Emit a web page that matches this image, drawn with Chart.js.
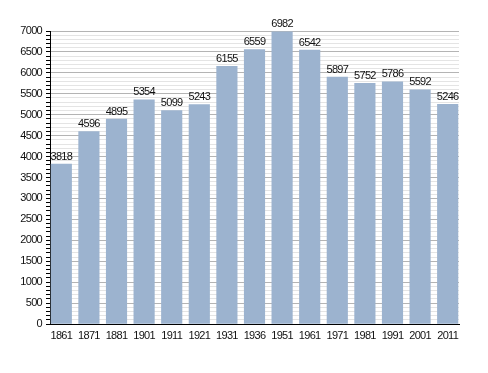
<!DOCTYPE html>
<html><head><meta charset="utf-8">
<script src="https://cdn.jsdelivr.net/npm/chart.js@4"></script>
<style>html,body{margin:0;padding:0;background:#fff}#w{width:488px;height:373px}</style>
</head><body><div id="w"><canvas id="c"></canvas></div>
<script>
const years = ['1861','1871','1881','1901','1911','1921','1931','1936','1951','1961','1971','1981','1991','2001','2011'];
const population = [3818,4596,4895,5354,5099,5243,6155,6559,6982,6542,5897,5752,5786,5592,5246];
const yMin = 0, yMax = 7000, minorStep = 100, majorStep = 500;
const FONT = '"Liberation Sans", Arial, sans-serif';
const SPACING = '-0.7px';

const spacingPlugin = {
  id: 'spacing',
  beforeUpdate(chart) { chart.ctx.letterSpacing = SPACING; },
  beforeLayout(chart) { chart.ctx.letterSpacing = SPACING; },
  beforeDraw(chart) { chart.ctx.letterSpacing = SPACING; }
};

const labelPlugin = {
  id: 'vals',
  afterDatasetsDraw(chart) {
    const ctx = chart.ctx;
    const meta = chart.getDatasetMeta(0);
    ctx.save();
    ctx.letterSpacing = SPACING;
    ctx.font = '11px ' + FONT;
    ctx.fillStyle = '#111';
    ctx.textAlign = 'center';
    ctx.textBaseline = 'bottom';
    meta.data.forEach((bar, i) => {
      ctx.fillText(String(population[i]), bar.x, bar.y - 2);
    });
    ctx.restore();
  }
};

new Chart(document.getElementById('c'), {
  type: 'bar',
  data: {
    datasets: [{
      data: population.map((v, i) => ({ x: i, y: v })),
      backgroundColor: '#9cb3cf', borderWidth: 0, barThickness: 20.5
    }]
  },
  options: {
    responsive: true, maintainAspectRatio: false, animation: false,
    layout: { padding: { top: 31, right: 29, left: 0, bottom: 0 } },
    plugins: { legend: { display: false }, tooltip: { enabled: false } },
    scales: {
      x: {
        type: 'linear', min: -0.41, max: 14.41, offset: false,
        grid: { display: false, drawTicks: false },
        border: { color: '#000', width: 1 },
        afterBuildTicks(s) { s.ticks = years.map((y, i) => ({ value: i })); },
        ticks: {
          color: '#111', font: { size: 11, family: FONT }, maxRotation: 0, autoSkip: false, padding: 5,
          callback: (v, i) => years[i] !== undefined ? years[i] : ''
        },
        afterFit(s) { s.height = 49; }
      },
      y: {
        min: yMin, max: yMax,
        border: { color: '#000', width: 1 },
        grid: {
          color: c => (c.tick && c.tick.value % majorStep === 0) ? '#b4b4b4' : '#e4e4e4',
          tickColor: '#000', tickLength: 4, lineWidth: 1
        },
        ticks: {
          stepSize: minorStep, autoSkip: false, color: '#111', padding: 4,
          font: { size: 11, family: FONT },
          callback: v => (v % majorStep === 0) ? String(v) : ''
        },
        afterFit(s) { s.width = 50; }
      }
    }
  },
  plugins: [spacingPlugin, labelPlugin]
});
</script></body></html>
